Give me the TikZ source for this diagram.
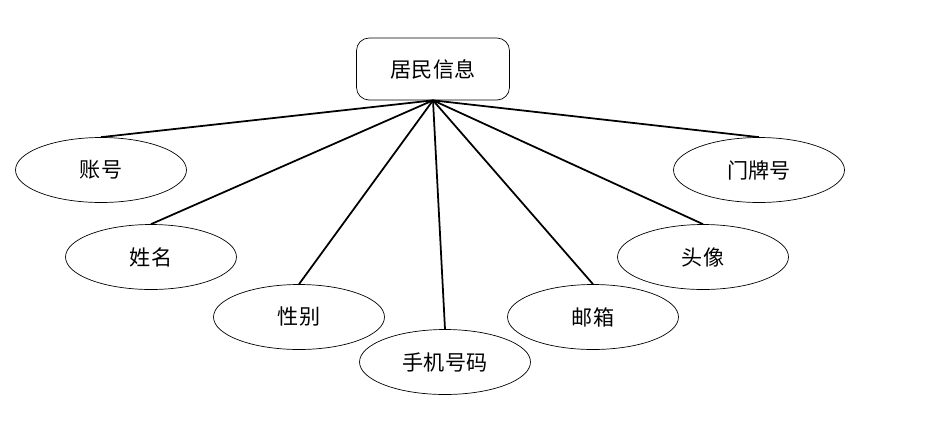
\documentclass[tikz,border=0pt]{standalone}
\usepackage{fontspec}
\setmainfont{Noto Sans CJK SC}
\usetikzlibrary{shapes.geometric}
\begin{document}
\begin{tikzpicture}[x=0.02cm,y=-0.02cm]
		\tikzset{entity/.style={rectangle, draw, rounded corners=0.25cm, minimum width=3.06cm, minimum height=1.24cm, font=\fontsize{12pt}{14pt}\selectfont}};
		\tikzset{attr/.style={ellipse, draw, inner sep=0pt, minimum width=3.42cm, minimum height=1.3cm, font=\fontsize{12pt}{14pt}\selectfont}};
		\useasboundingbox (0,0) rectangle (946,420);
		\node[entity] (Resident) at (433, 69) {居民信息};
		\node[attr] (Account) at (101,170) {账号};
		\node[attr] (Name)    at (151,257) {姓名};
		\node[attr] (Gender)  at (299,317) {性别};
		\node[attr] (Phone)   at (445,362) {手机号码};
		\node[attr] (Email)   at (593,317) {邮箱};
		\node[attr] (Avatar)  at (703,257) {头像};
		\node[attr] (DoorNo)  at (759,170) {门牌号};
		\draw[line width=1pt] (Resident.south)--(Account.north);
		\draw[line width=1pt] (Resident.south)--(Name.north);
		\draw[line width=1pt] (Resident.south)--(Gender.north);
		\draw[line width=1pt] (Resident.south)--(Phone.north);
		\draw[line width=1pt] (Resident.south)--(Email.north);
		\draw[line width=1pt] (Resident.south)--(Avatar.north);
		\draw[line width=1pt] (Resident.south)--(DoorNo.north);
	\end{tikzpicture}
\end{document}
